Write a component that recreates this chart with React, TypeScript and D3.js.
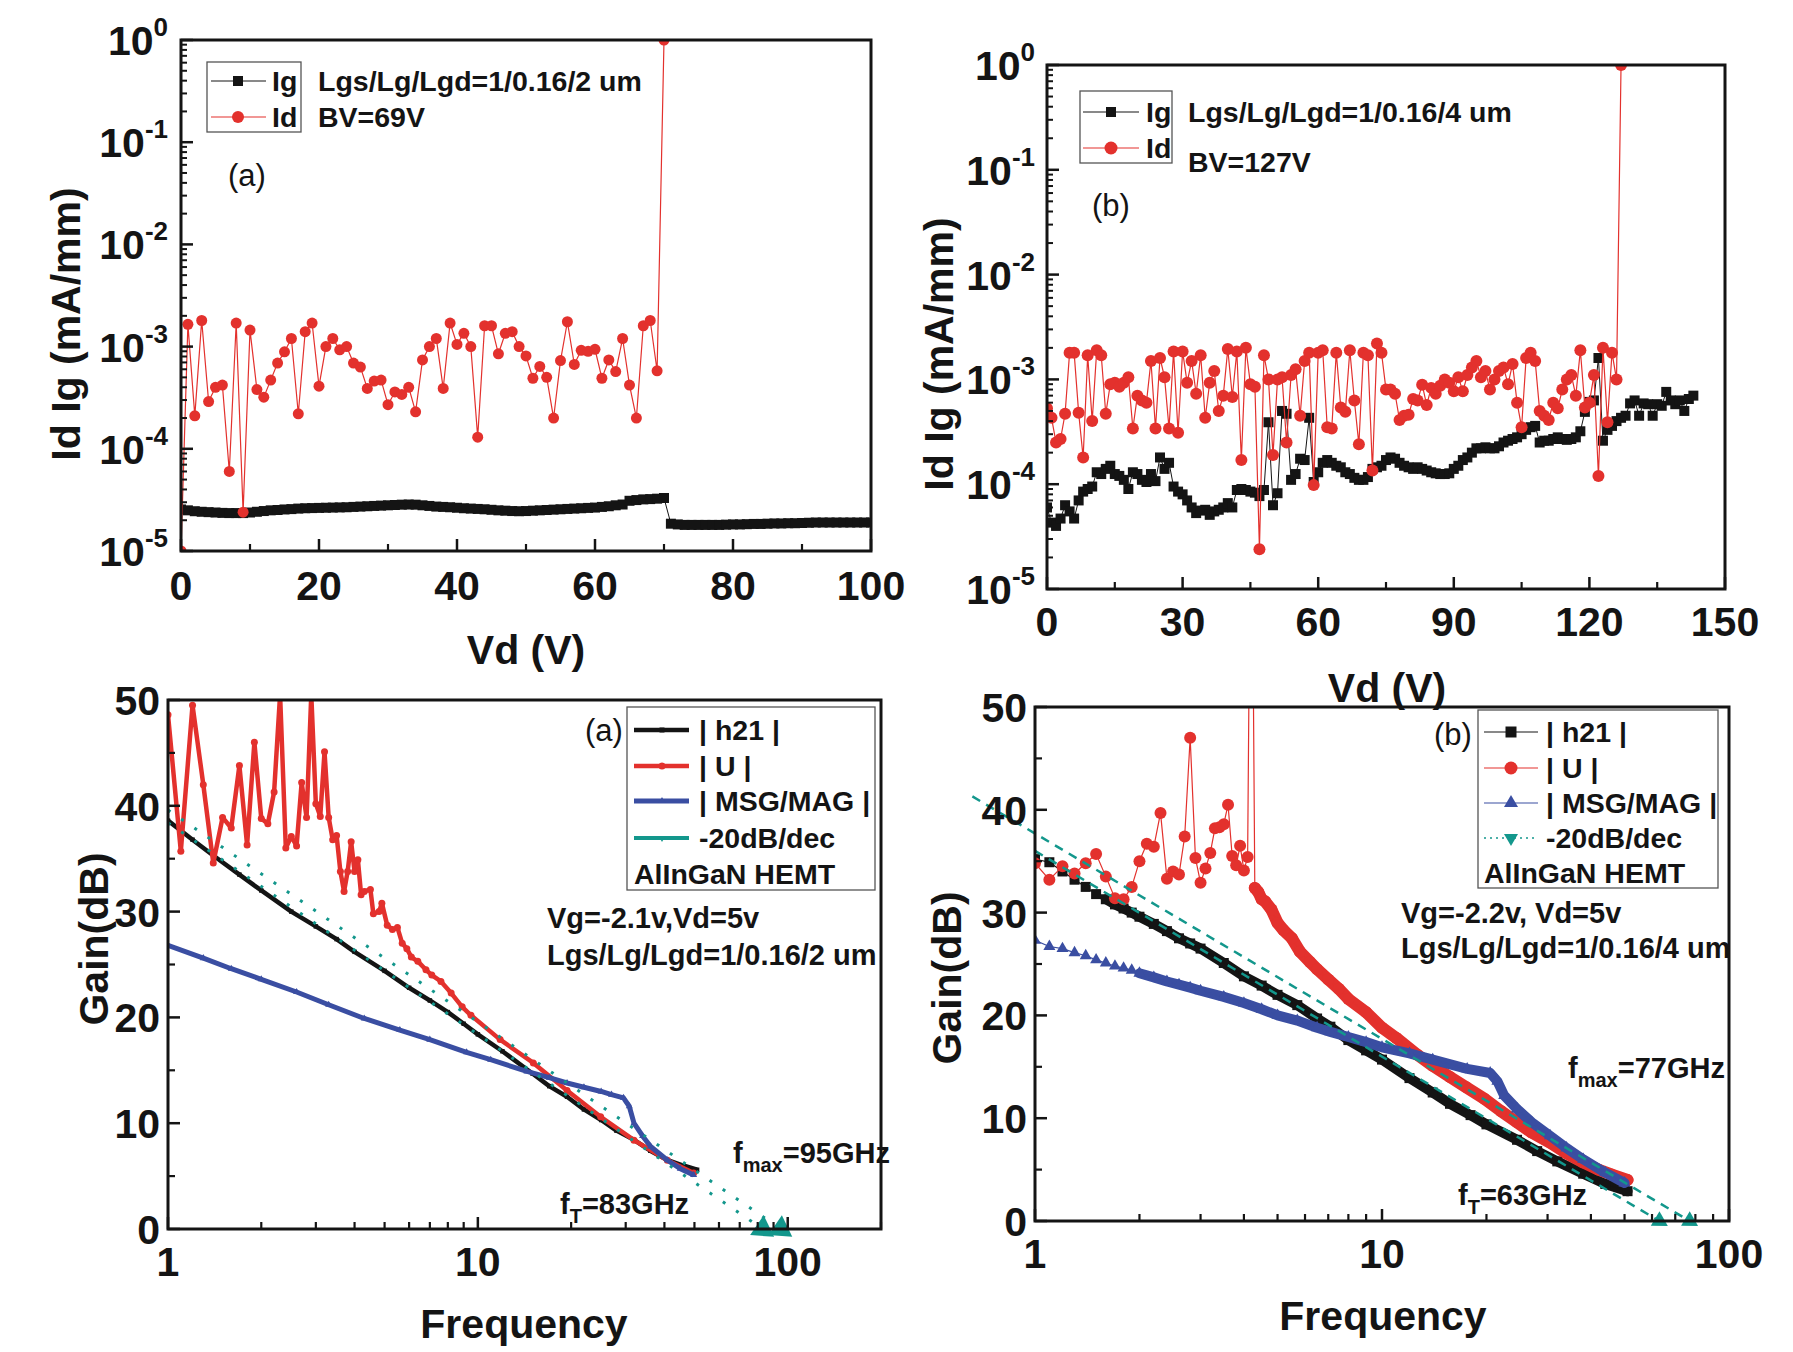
import React from 'react';
import * as d3 from 'd3';

const FONT = "'Liberation Sans', Arial, Helvetica, sans-serif";
const RED = '#e3312d';
const BLUE = '#3a4ea2';
const TEAL = '#13978c';
const INK = '#141414';

// ---------- top (a): off-state breakdown, Lgd = 2 um. index = Vd in volts (1 V step)
const idA = [
  1e-5, 1.65e-3, 2.1e-4, 1.8e-3, 2.9e-4, 4.0e-4, 4.2e-4, 6e-5, 1.7e-3, 2.4e-5,
  1.45e-3, 3.8e-4, 3.2e-4, 4.7e-4, 6.9e-4, 8.9e-4, 1.2e-3, 2.2e-4, 1.4e-3, 1.7e-3,
  4.1e-4, 1.0e-3, 1.2e-3, 9.3e-4, 1.0e-3, 6.9e-4, 6.3e-4, 3.9e-4, 4.6e-4, 4.7e-4,
  2.7e-4, 3.6e-4, 3.4e-4, 4.0e-4, 2.3e-4, 7.4e-4, 1.0e-3, 1.2e-3, 3.9e-4, 1.7e-3,
  1.05e-3, 1.35e-3, 1.0e-3, 1.3e-4, 1.6e-3, 1.6e-3, 8.5e-4, 1.35e-3, 1.4e-3, 1.0e-3,
  8.1e-4, 4.9e-4, 6.4e-4, 5.0e-4, 2.0e-4, 7.3e-4, 1.75e-3, 6.7e-4, 9.2e-4, 9.0e-4,
  9.4e-4, 4.9e-4, 7.4e-4, 5.7e-4, 1.2e-3, 4.2e-4, 2.0e-4, 1.6e-3, 1.8e-3, 5.8e-4,
  1.0,
];
// gate current, units of 1e-5 mA/mm
const igA = [
  2.55, 2.5, 2.45, 2.42, 2.4, 2.38, 2.36, 2.35, 2.35, 2.35,
  2.38, 2.42, 2.46, 2.5, 2.52, 2.55, 2.57, 2.6, 2.62, 2.63,
  2.64, 2.65, 2.66, 2.67, 2.68, 2.7, 2.72, 2.74, 2.76, 2.78,
  2.8, 2.82, 2.84, 2.85, 2.84, 2.8, 2.76, 2.72, 2.7, 2.68,
  2.65, 2.62, 2.6, 2.58, 2.56, 2.53, 2.5, 2.48, 2.46, 2.45,
  2.46, 2.48, 2.5, 2.52, 2.54, 2.56, 2.58, 2.6, 2.62, 2.64,
  2.66, 2.7, 2.74, 2.8, 2.85, 3.1, 3.15, 3.2, 3.22, 3.25,
  3.3, 1.85, 1.82, 1.8, 1.8, 1.8, 1.8, 1.8, 1.8, 1.81,
  1.82, 1.82, 1.83, 1.84, 1.84, 1.85, 1.86, 1.86, 1.87, 1.87,
  1.88, 1.89, 1.9, 1.9, 1.9, 1.9, 1.9, 1.9, 1.9, 1.9,
  1.9,
];

// ---------- top (b): Lgd = 4 um
const idB = [
  5.3e-4, 4.3e-4, 2.5e-4, 2.7e-4, 4.7e-4, 1.8e-3, 1.8e-3, 4.8e-4, 1.8e-4, 1.7e-3,
  4.0e-4, 1.9e-3, 1.7e-3, 4.7e-4, 9.0e-4, 9.3e-4, 8.5e-4, 9.3e-4, 1.05e-3, 3.4e-4,
  7.0e-4, 6.3e-4, 6.0e-4, 1.5e-3, 3.4e-4, 1.6e-3, 1.05e-3, 3.4e-4, 1.85e-3, 3.1e-4,
  1.85e-3, 9.3e-4, 1.5e-3, 7.3e-4, 1.7e-3, 4.3e-4, 9.3e-4, 1.2e-3, 5.0e-4, 7.0e-4,
  1.95e-3, 6.8e-4, 1.85e-3, 1.7e-4, 2.0e-3, 9.0e-4, 8.5e-4, 2.4e-5, 1.7e-3, 1.0e-3,
  1.9e-4, 1.0e-3, 1.05e-3, 2.5e-4, 1.1e-3, 1.25e-3, 4.5e-4, 1.5e-3, 1.8e-3, 9.8e-5,
  1.8e-3, 1.9e-3, 3.5e-4, 3.4e-4, 1.8e-3, 5.4e-4, 4.9e-4, 1.9e-3, 6.3e-4, 2.4e-4,
  1.8e-3, 1.7e-3, 1.35e-4, 2.2e-3, 1.8e-3, 8.0e-4, 8.0e-4, 7.3e-4, 4.1e-4, 4.5e-4,
  4.6e-4, 6.5e-4, 6.3e-4, 8.9e-4, 5.7e-4, 8.3e-4, 7.3e-4, 8.7e-4, 1.0e-3, 9.3e-4,
  7.7e-4, 1.05e-3, 7.7e-4, 1.1e-3, 1.3e-3, 1.5e-3, 1.05e-3, 1.2e-3, 8.0e-4, 1.0e-3,
  1.2e-3, 1.3e-3, 9.0e-4, 1.4e-3, 6.0e-4, 3.5e-4, 1.6e-3, 1.8e-3, 1.5e-3, 5.0e-4,
  4.5e-4, 4.1e-4, 6.0e-4, 5.3e-4, 8.0e-4, 1.0e-3, 1.1e-3, 7.0e-4, 1.9e-3, 5.4e-4,
  6.0e-4, 1.1e-3, 1.2e-4, 2.0e-3, 3.9e-4, 1.8e-3, 1.0e-3, 1.0,
];
const igB = [
  6e-5, 4.3e-5, 4e-5, 4.7e-5, 6.3e-5, 5.5e-5, 4.7e-5, 7e-5, 8.5e-5, 9e-5,
  9.5e-5, 1.3e-4, 1.25e-4, 1.4e-4, 1.5e-4, 1.25e-4, 1.2e-4, 1.1e-4, 9e-5, 1.3e-4,
  1.25e-4, 1.1e-4, 1.05e-4, 1.25e-4, 1.07e-4, 1.8e-4, 1.4e-4, 1.6e-4, 9.5e-5, 8.5e-5,
  8e-5, 7e-5, 6e-5, 5.3e-5, 5.6e-5, 5.7e-5, 5.1e-5, 5.5e-5, 5.7e-5, 6e-5,
  6.6e-5, 6e-5, 8.8e-5, 9e-5, 8.8e-5, 8.5e-5, 8.3e-5, 7.7e-5, 8.8e-5, 3.9e-4,
  6.3e-5, 8.2e-5, 5e-4, 4.7e-4, 1.1e-4, 1.25e-4, 1.75e-4, 1.7e-4, 4.3e-4, 1.05e-4,
  1.3e-4, 1.6e-4, 1.7e-4, 1.6e-4, 1.5e-4, 1.45e-4, 1.3e-4, 1.25e-4, 1.15e-4, 1.1e-4,
  1.1e-4, 1.17e-4, 1.4e-4, 1.45e-4, 1.5e-4, 1.7e-4, 1.8e-4, 1.75e-4, 1.6e-4, 1.5e-4,
  1.45e-4, 1.4e-4, 1.45e-4, 1.4e-4, 1.35e-4, 1.3e-4, 1.27e-4, 1.25e-4, 1.25e-4, 1.27e-4,
  1.4e-4, 1.5e-4, 1.7e-4, 1.8e-4, 2e-4, 2.2e-4, 2.2e-4, 2.25e-4, 2.2e-4, 2.2e-4,
  2.3e-4, 2.5e-4, 2.6e-4, 2.7e-4, 2.8e-4, 3e-4, 3.3e-4, 3.5e-4, 3.6e-4, 2.5e-4,
  2.6e-4, 2.6e-4, 2.7e-4, 2.8e-4, 2.7e-4, 2.65e-4, 2.7e-4, 2.8e-4, 3.2e-4, 4.9e-4,
  6.1e-4, 6.3e-4, 1.6e-3, 2.6e-4, 3.3e-4, 3.6e-4, 4e-4, 4.3e-4, 4.5e-4, 5.9e-4,
  6.3e-4, 4.5e-4, 5.9e-4, 5.8e-4, 4.5e-4, 5.8e-4, 5.6e-4, 7.6e-4, 6.3e-4, 5.8e-4,
  6.3e-4, 5e-4, 6.5e-4, 7e-4,
];

// ---------- bottom (a): gains vs frequency (GHz), Lgd = 2 um
const fH21a = [1, 1.2, 1.4, 1.7, 2, 2.5, 3, 3.5, 4, 5, 6, 7, 8, 9, 10, 12, 15, 17, 19.4, 22, 25, 28, 32, 36, 41, 46, 51];
const gH21a = [38.6, 36.8, 35.3, 33.5, 32.0, 30.0, 28.6, 27.4, 26.2, 24.4, 22.8, 21.6, 20.5, 19.4, 18.4, 16.8, 14.7, 13.5, 12.5, 11.3, 10.3, 9.3, 8.4, 7.4, 6.5, 6.0, 5.6];
const fUa = [
  1.0, 1.1, 1.2, 1.3, 1.4, 1.5, 1.6, 1.7, 1.8, 1.9, 2.0, 2.1, 2.2, 2.3, 2.4, 2.5, 2.6, 2.7, 2.8, 2.9,
  3.0, 3.1, 3.2, 3.3, 3.4, 3.5, 3.6, 3.7, 3.8, 3.9, 4.0, 4.1, 4.2, 4.3, 4.5, 4.6, 4.8, 4.9, 5.1, 5.3,
  5.5, 5.7, 5.9, 6.1, 6.4, 6.8, 7.1, 7.6, 8.2, 8.9, 9.5, 11.8, 15.1, 19.4, 24.9, 31.9, 40.9, 49.7,
];
const gUa = [
  48.6, 35.7, 49.5, 42.0, 34.6, 38.9, 37.9, 43.8, 36.3, 46.0, 38.8, 38.3, 41.3, 50.5, 36.0, 37.1, 36.2, 42.2, 38.9, 50.5,
  40.2, 39.0, 45.1, 38.9, 36.8, 37.2, 33.8, 31.9, 33.8, 36.6, 33.8, 34.9, 31.6, 31.9, 32.1, 29.8, 30.0, 30.8, 28.7, 28.3,
  28.5, 27.0, 26.5, 25.7, 25.3, 24.5, 24.0, 23.4, 22.3, 21.0, 20.2, 17.9, 15.7, 13.1, 10.6, 8.4, 6.5, 5.3,
];
const fMSGa = [1, 1.3, 1.6, 2, 2.6, 3.3, 4.3, 5.6, 7, 9.2, 11, 14.4, 17, 19.4, 22, 25, 27, 29.5, 30.8, 31.9, 34, 36.1, 40.9, 45, 49.7];
const gMSGa = [26.8, 25.6, 24.6, 23.6, 22.4, 21.2, 19.9, 18.8, 17.9, 16.7, 16.0, 14.9, 14.3, 13.8, 13.4, 13.0, 12.7, 12.4, 11.6, 10.0, 8.8, 7.8, 6.5, 5.7, 5.1];
// -20 dB/dec guides, end points (GHz, dB)
const decAfTf = [1, 83];
const decAfTg = [38.4, 0];
const decAfmaxf = [1, 95];
const decAfmaxg = [39.6, 0];

// ---------- bottom (b): Lgd = 4 um
const fH21b = [1.0, 1.1, 1.2, 1.3, 1.4, 1.5, 1.6, 1.7, 1.8, 1.9, 2.0, 2.2, 2.4, 2.6, 2.8, 3.0, 3.5, 4.0, 4.5, 5.0, 5.7, 6.5, 7.1, 8, 9, 10, 12, 14, 15.7, 18, 20, 24.5, 28, 32, 38, 44, 51];
const gH21b = [35.2, 34.9, 34.0, 33.2, 32.5, 31.8, 31.3, 30.8, 30.4, 30.0, 29.6, 28.9, 28.2, 27.5, 27.0, 26.5, 25.1, 23.8, 22.9, 22.0, 21.0, 19.7, 18.9, 17.6, 16.6, 15.7, 13.9, 12.5, 11.4, 10.3, 9.4, 7.9, 6.8, 5.8, 4.6, 3.6, 2.9];
const fUb = [
  1.0, 1.1, 1.2, 1.3, 1.4, 1.5, 1.6, 1.7, 1.8, 1.9, 2.0, 2.1, 2.2, 2.3, 2.4, 2.5, 2.6, 2.7, 2.8, 2.9,
  3.0, 3.1, 3.2, 3.3, 3.4, 3.5, 3.6, 3.7, 3.8, 3.9, 4.0, 4.1, 4.2,
  4.3, 4.4, 4.5, 4.6, 4.8, 5.0, 5.2, 5.5, 5.8, 6.2, 6.5, 7.0, 7.5, 8.0, 9.0, 10, 11, 12.6, 14, 15.7,
  17.5, 19.7, 22, 24.5, 27, 30.6, 34, 38, 42, 46, 51,
];
const gUb = [
  34.8, 33.2, 34.5, 33.8, 34.8, 35.7, 33.5, 31.4, 31.3, 32.5, 35.0, 36.7, 36.4, 39.7, 33.3, 34.0, 33.7, 37.4, 47.0, 35.3,
  32.9, 34.3, 35.8, 38.2, 38.3, 38.6, 40.5, 35.5, 34.6, 36.5, 34.1, 35.4, 80,
  32.4, 32.0, 31.3, 31.1, 30.3, 29.0, 28.3, 27.5, 26.2, 25.2, 24.5, 23.5, 22.6, 21.6, 20.3, 18.8, 17.8, 16.2, 15.1, 14.0,
  13.0, 11.9, 10.7, 9.6, 8.6, 7.6, 6.6, 5.7, 5.0, 4.5, 4.0,
];
const fMSGb = [1.0, 1.1, 1.2, 1.3, 1.4, 1.5, 1.6, 1.7, 1.8, 1.9, 2.0, 2.2, 2.4, 2.6, 2.8, 3.0, 3.5, 4.0, 4.5, 5, 5.7, 6.5, 7.1, 8, 9, 10, 12, 14, 17.6, 20.5, 21.5, 22.5, 24.5, 27, 30.5, 34, 38, 44, 50];
const gMSGb = [27.3, 26.7, 26.5, 26.1, 25.8, 25.4, 25.1, 24.8, 24.6, 24.4, 24.1, 23.7, 23.3, 23.0, 22.7, 22.4, 21.8, 21.2, 20.6, 20.0, 19.5, 18.8, 18.4, 17.9, 17.4, 16.9, 16.3, 15.7, 14.8, 14.4, 13.6, 12.2, 10.9, 9.6, 8.3, 7.1, 6.0, 4.7, 3.7];
const decBfTf = [1, 63];
const decBfTg = [36.0, 0];
const decBfmaxf = [0.66, 77];
const decBfmaxg = [41.3, 0];

const isDecade = (v: number) => Math.abs(Math.log10(v) - Math.round(Math.log10(v))) < 1e-6;

function sym(shape: string, s: number): string {
  if (shape === 'square') return d3.symbol(d3.symbolSquare, s * s)() as string;
  if (shape === 'circle') return d3.symbol(d3.symbolCircle, (Math.PI * s * s) / 4)() as string;
  return d3.symbol(d3.symbolTriangle, (Math.sqrt(3) / 4) * s * s)() as string;
}

function Markers({ pts, x, y, shape, s, color, pre }: any) {
  const d = sym(shape, s);
  const rot = shape === 'tridown' ? ' rotate(180)' : '';
  return (
    <g>
      {pts.map((p: number[], i: number) => (
        <path key={pre + i} d={d} fill={color} transform={`translate(${x(p[0])},${y(p[1])})${rot}`} />
      ))}
    </g>
  );
}

function BreakdownPanel({ c }: any) {
  const x = d3.scaleLinear().domain([0, c.xMax]).range([c.L, c.R]);
  const y = d3.scaleLog().domain([1e-5, 1]).range([c.B, c.T]);
  const yt = y.ticks();
  const yMajor = yt.filter(isDecade);
  const yMinor = yt.filter((v) => !isDecade(v));
  const xMajor = d3.range(0, c.xMax + 1, c.xStep);
  const xMinor = d3.range(c.xStep / 2, c.xMax, c.xStep);
  const line = d3.line<number[]>().x((d) => x(d[0])).y((d) => y(d[1]));
  const idPts = c.id.map((v: number, i: number) => [i, v]);
  const igPts = c.ig.map((v: number, i: number) => [i, v * c.igUnit]);
  const lg = c.legend;
  return (
    <g>
      <defs>
        <clipPath id={c.cid}>
          <rect x={c.L} y={c.T} width={c.R - c.L} height={c.B - c.T} />
        </clipPath>
      </defs>
      <g clipPath={`url(#${c.cid})`}>
        <path d={line(igPts) as string} fill="none" stroke={INK} strokeWidth={1} />
        <Markers pts={igPts} x={x} y={y} shape="square" s={c.sq} color={INK} pre="g" />
        <path d={line(idPts) as string} fill="none" stroke={RED} strokeWidth={1.2} />
        <Markers pts={idPts} x={x} y={y} shape="circle" s={c.dot} color={RED} pre="d" />
      </g>
      {/* ticks, inward */}
      <g stroke={INK}>
        {xMajor.map((v: number) => (
          <line key={'xM' + v} x1={x(v)} x2={x(v)} y1={c.B} y2={c.B - 12} strokeWidth={2.5} />
        ))}
        {xMinor.map((v: number) => (
          <line key={'xm' + v} x1={x(v)} x2={x(v)} y1={c.B} y2={c.B - 7} strokeWidth={2.2} />
        ))}
        {yMajor.map((v) => (
          <line key={'yM' + v} x1={c.L} x2={c.L + 12} y1={y(v)} y2={y(v)} strokeWidth={2.5} />
        ))}
        {yMinor.map((v) => (
          <line key={'ym' + v} x1={c.L} x2={c.L + 6} y1={y(v)} y2={y(v)} strokeWidth={2} />
        ))}
      </g>
      <rect x={c.L} y={c.T} width={c.R - c.L} height={c.B - c.T} fill="none" stroke={INK} strokeWidth={3} />
      {yMajor.map((v) => (
        <text key={'yl' + v} x={c.yLabX} y={y(v) + 15} textAnchor="end" fontSize={41}>
          10
          <tspan dy={-19} fontSize={26}>
            {String(Math.round(Math.log10(v)))}
          </tspan>
        </text>
      ))}
      {xMajor.map((v: number) => (
        <text key={'xl' + v} x={x(v)} y={c.xLabY} textAnchor="middle" fontSize={41}>
          {v}
        </text>
      ))}
      <text x={c.xTitle[0]} y={c.xTitle[1]} textAnchor="middle" fontSize={41}>
        Vd (V)
      </text>
      <text transform={`translate(${c.yTitle[0]},${c.yTitle[1]}) rotate(-90)`} textAnchor="middle" fontSize={41}>
        Id Ig (mA/mm)
      </text>
      {/* legend */}
      <rect x={lg.box[0]} y={lg.box[1]} width={lg.box[2] - lg.box[0]} height={lg.box[3] - lg.box[1]} fill="none" stroke="#555" strokeWidth={1.3} />
      <line x1={lg.sx0} x2={lg.sx1} y1={lg.rows[0]} y2={lg.rows[0]} stroke={INK} strokeWidth={1.2} />
      <path d={sym('square', c.sq)} transform={`translate(${lg.mx},${lg.rows[0]})`} fill={INK} />
      <line x1={lg.sx0} x2={lg.sx1} y1={lg.rows[1]} y2={lg.rows[1]} stroke={RED} strokeWidth={1.2} />
      <path d={sym('circle', c.dot + 1)} transform={`translate(${lg.mx},${lg.rows[1]})`} fill={RED} />
      <text x={lg.tx} y={lg.rows[0] + 10} fontSize={28.5}>Ig</text>
      <text x={lg.tx} y={lg.rows[1] + 10} fontSize={28.5}>Id</text>
      {c.notes.map((n: any) => (
        <text key={n[0]} x={n[1]} y={n[2]} fontSize={28.5}>
          {n[0]}
        </text>
      ))}
      <text x={c.tag[1]} y={c.tag[2]} textAnchor="middle" fontSize={31} fontWeight="normal">
        {c.tag[0]}
      </text>
    </g>
  );
}

function FreqNote({ n }: any) {
  return (
    <text x={n.x} y={n.y} fontSize={29}>
      f
      <tspan dy={9} fontSize={20}>
        {n.sub}
      </tspan>
      <tspan dy={-9}>{n.rest}</tspan>
    </text>
  );
}

function GainPanel({ c }: any) {
  const x = d3.scaleLog().domain([1, c.fMax]).range([c.L, c.R]);
  const y = d3.scaleLinear().domain([0, 50]).range([c.B, c.T]);
  const xt = x.ticks();
  const xMajor = xt.filter(isDecade);
  const xMinor = xt.filter((v) => !isDecade(v));
  const yMajor = d3.range(0, 51, 10);
  const yMinor = d3.range(5, 50, 10);
  const line = d3.line<number[]>().x((d) => x(d[0])).y((d) => y(d[1]));
  const lg = c.legend;
  return (
    <g>
      <defs>
        <clipPath id={c.cid}>
          <rect x={c.L} y={c.T} width={c.R - c.L} height={c.B - c.T} />
        </clipPath>
      </defs>
      <g clipPath={`url(#${c.cid})`}>
        {c.series.map((s: any, k: number) => {
          const pts = s.f.map((f: number, i: number) => [f, s.g[i]]);
          const bandPts = pts.filter((q: number[]) => q[0] >= s.bandFrom);
          return (
            <g key={'s' + k}>
              {s.band ? (
                <path d={line(bandPts) as string} fill="none" stroke={s.color} strokeWidth={s.band} strokeLinejoin="round" strokeLinecap="round" />
              ) : null}
              <path d={line(pts) as string} fill="none" stroke={s.color} strokeWidth={s.lw} strokeLinejoin="round" />
              <Markers pts={pts} x={x} y={y} shape={s.shape} s={s.s} color={s.color} pre={'m' + k} />
            </g>
          );
        })}
      </g>
      {c.dec.map((d: any, k: number) => {
        const pts = d.f.map((f: number, i: number) => [f, d.g[i]]);
        const x0 = x(d.f[0]);
        const y0 = y(d.g[0]);
        const x1 = x(d.f[1]);
        const y1 = y(d.g[1]);
        const ang = (Math.atan2(y1 - y0, x1 - x0) * 180) / Math.PI + 90;
        return (
          <g key={'dec' + k}>
            <path d={line(pts) as string} fill="none" stroke={TEAL} strokeWidth={c.decW} strokeDasharray={c.decDash} />
            <path d={sym('triangle', c.arrow)} fill={TEAL} transform={`translate(${x1},${y1}) rotate(${ang})`} />
          </g>
        );
      })}
      <g stroke={INK}>
        {xMajor.map((v) => (
          <line key={'xM' + v} x1={x(v)} x2={x(v)} y1={c.B} y2={c.B - 12} strokeWidth={2.5} />
        ))}
        {xMinor.map((v) => (
          <line key={'xm' + v} x1={x(v)} x2={x(v)} y1={c.B} y2={c.B - 7} strokeWidth={2.2} />
        ))}
        {yMajor.map((v: number) => (
          <line key={'yM' + v} x1={c.L} x2={c.L + 12} y1={y(v)} y2={y(v)} strokeWidth={2.5} />
        ))}
        {yMinor.map((v: number) => (
          <line key={'ym' + v} x1={c.L} x2={c.L + 7} y1={y(v)} y2={y(v)} strokeWidth={2.2} />
        ))}
      </g>
      <rect x={c.L} y={c.T} width={c.R - c.L} height={c.B - c.T} fill="none" stroke={INK} strokeWidth={3} />
      {yMajor.map((v: number) => (
        <text key={'yl' + v} x={c.yLabX} y={y(v) + 15} textAnchor="end" fontSize={41}>
          {v}
        </text>
      ))}
      {xMajor.map((v) => (
        <text key={'xl' + v} x={x(v)} y={c.xLabY} textAnchor="middle" fontSize={41}>
          {v}
        </text>
      ))}
      <text x={c.xTitle[0]} y={c.xTitle[1]} textAnchor="middle" fontSize={41}>
        Frequency
      </text>
      <text transform={`translate(${c.yTitle[0]},${c.yTitle[1]}) rotate(-90)`} textAnchor="middle" fontSize={41}>
        Gain(dB)
      </text>
      {/* legend */}
      <rect x={lg.box[0]} y={lg.box[1]} width={lg.box[2] - lg.box[0]} height={lg.box[3] - lg.box[1]} fill="none" stroke="#555" strokeWidth={1.3} />
      {lg.items.map((it: any, k: number) => (
        <g key={'lg' + k}>
          <line x1={lg.sx0} x2={lg.sx1} y1={lg.rows[k]} y2={lg.rows[k]} stroke={it.color} strokeWidth={it.lw} strokeDasharray={it.dash || null} />
          <path d={sym(it.shape, it.s)} fill={it.color} transform={`translate(${lg.mx},${lg.rows[k]})${it.shape === 'tridown' ? ' rotate(180)' : ''}`} />
          <text x={lg.tx} y={lg.rows[k] + 10} fontSize={28.5}>
            {it.label}
          </text>
        </g>
      ))}
      <text x={lg.sx0} y={lg.hemtY + 10} fontSize={28.5}>
        AlInGaN HEMT
      </text>
      <text x={c.tag[1]} y={c.tag[2]} textAnchor="middle" fontSize={31} fontWeight="normal">
        {c.tag[0]}
      </text>
      {c.notes.map((n: any) => (
        <text key={n[0]} x={n[1]} y={n[2]} fontSize={29}>
          {n[0]}
        </text>
      ))}
      <FreqNote n={c.fmax} />
      <FreqNote n={c.fT} />
    </g>
  );
}

const panelA = {
  cid: 'clipA', L: 181, R: 871, T: 40, B: 551, xMax: 100, xStep: 20,
  id: idA, ig: igA, igUnit: 1e-5, dot: 11, sq: 10,
  yLabX: 168, xLabY: 600, xTitle: [526, 664], yTitle: [80, 324],
  legend: { box: [207, 62, 301, 132], sx0: 211, sx1: 266, mx: 238, tx: 272, rows: [81, 117] },
  notes: [['Lgs/Lg/Lgd=1/0.16/2 um', 318, 91], ['BV=69V', 318, 127]],
  tag: ['(a)', 247, 186],
};

const panelB = {
  cid: 'clipB', L: 1047, R: 1725, T: 65, B: 589, xMax: 150, xStep: 30,
  id: idB, ig: igB, igUnit: 1, dot: 12, sq: 10,
  yLabX: 1035, xLabY: 636, xTitle: [1387, 702], yTitle: [953, 354],
  legend: { box: [1080, 91, 1172, 163], sx0: 1083, sx1: 1139, mx: 1111, tx: 1146, rows: [112, 148] },
  notes: [['Lgs/Lg/Lgd=1/0.16/4 um', 1188, 122], ['BV=127V', 1188, 172]],
  tag: ['(b)', 1111, 216],
};

const panelC = {
  cid: 'clipC', L: 168, R: 881, T: 700, B: 1229, fMax: 200,
  series: [
    { f: fH21a, g: gH21a, color: INK, lw: 4.5, shape: 'square', s: 4.5, band: 0, bandFrom: 0 },
    { f: fUa, g: gUa, color: RED, lw: 4.5, shape: 'circle', s: 7, band: 0, bandFrom: 0 },
    { f: fMSGa, g: gMSGa, color: BLUE, lw: 5, shape: 'triangle', s: 7, band: 0, bandFrom: 0 },
  ],
  dec: [
    { f: decAfTf, g: decAfTg },
    { f: decAfmaxf, g: decAfmaxg },
  ],
  decW: 3, decDash: '3 13', arrow: 24,
  yLabX: 160, xLabY: 1276, xTitle: [524, 1338], yTitle: [108, 939],
  legend: {
    box: [627, 707, 875, 890], sx0: 634, sx1: 689, mx: 662, tx: 699, rows: [730, 766, 801, 838], hemtY: 874,
    items: [
      { label: '| h21 |', color: INK, lw: 4.5, shape: 'square', s: 5 },
      { label: '| U |', color: RED, lw: 4.5, shape: 'circle', s: 7 },
      { label: '| MSG/MAG |', color: BLUE, lw: 5, shape: 'triangle', s: 7 },
      { label: '-20dB/dec', color: TEAL, lw: 4, shape: 'tridown', s: 7 },
    ],
  },
  tag: ['(a)', 604, 741],
  notes: [['Vg=-2.1v,Vd=5v', 547, 928], ['Lgs/Lg/Lgd=1/0.16/2 um', 547, 965]],
  fmax: { x: 733, y: 1163, sub: 'max', rest: '=95GHz' },
  fT: { x: 560, y: 1214, sub: 'T', rest: '=83GHz' },
};

const panelD = {
  cid: 'clipD', L: 1035, R: 1729, T: 707, B: 1221, fMax: 100,
  series: [
    { f: fH21b, g: gH21b, color: INK, lw: 1.2, shape: 'square', s: 10, band: 10, bandFrom: 1.6 },
    { f: fUb, g: gUb, color: RED, lw: 1.2, shape: 'circle', s: 12, band: 12, bandFrom: 4.3 },
    { f: fMSGb, g: gMSGb, color: BLUE, lw: 1.2, shape: 'triangle', s: 12, band: 10, bandFrom: 2.0 },
  ],
  dec: [
    { f: decBfTf, g: decBfTg },
    { f: decBfmaxf, g: decBfmaxg },
  ],
  decW: 2.5, decDash: '9 7', arrow: 17,
  yLabX: 1027, xLabY: 1268, xTitle: [1383, 1330], yTitle: [961, 978],
  legend: {
    box: [1478, 710, 1718, 888], sx0: 1484, sx1: 1538, mx: 1511, tx: 1546, rows: [732, 768, 803, 838], hemtY: 873,
    items: [
      { label: '| h21 |', color: INK, lw: 1.2, shape: 'square', s: 11 },
      { label: '| U |', color: RED, lw: 1.2, shape: 'circle', s: 13 },
      { label: '| MSG/MAG |', color: BLUE, lw: 1.2, shape: 'triangle', s: 14 },
      { label: '-20dB/dec', color: TEAL, lw: 1.5, shape: 'tridown', s: 14, dash: '2 4' },
    ],
  },
  tag: ['(b)', 1453, 745],
  notes: [['Vg=-2.2v, Vd=5v', 1401, 923], ['Lgs/Lg/Lgd=1/0.16/4 um', 1401, 958]],
  fmax: { x: 1568, y: 1078, sub: 'max', rest: '=77GHz' },
  fT: { x: 1458, y: 1205, sub: 'T', rest: '=63GHz' },
};

export default function App() {
  return (
    <div style={{ position: 'absolute', left: 0, top: 0 }}>
      <svg width={1793} height={1352} viewBox="0 0 1793 1352" style={{ display: 'block', background: '#fff' }} fontFamily={FONT} fontWeight="bold" fill={INK}>
        <BreakdownPanel c={panelA} />
        <BreakdownPanel c={panelB} />
        <GainPanel c={panelC} />
        <GainPanel c={panelD} />
      </svg>
    </div>
  );
}
